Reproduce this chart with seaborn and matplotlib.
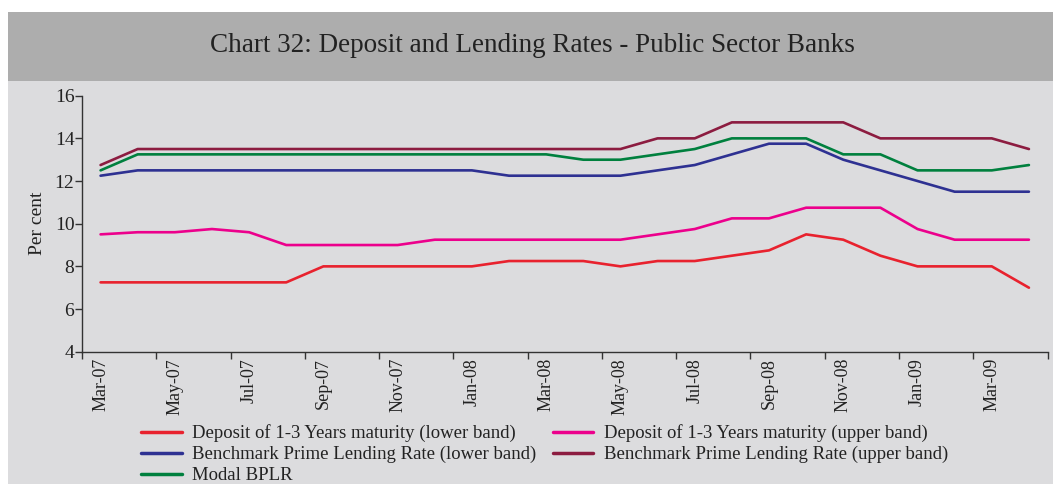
import matplotlib
matplotlib.use("Agg")
import matplotlib.pyplot as plt
import seaborn as sns
import pandas as pd
import numpy as np
from matplotlib.patches import Rectangle
from matplotlib.ticker import FixedLocator, NullFormatter

months = ["Mar-07", "Apr-07", "May-07", "Jun-07", "Jul-07", "Aug-07", "Sep-07", "Oct-07",
          "Nov-07", "Dec-07", "Jan-08", "Feb-08", "Mar-08", "Apr-08", "May-08", "Jun-08",
          "Jul-08", "Aug-08", "Sep-08", "Oct-08", "Nov-08", "Dec-08", "Jan-09", "Feb-09",
          "Mar-09", "Apr-09"]

dep_lower = [7.25, 7.25, 7.25, 7.25, 7.25, 7.25, 8.0, 8.0, 8.0, 8.0, 8.0, 8.25, 8.25,
             8.25, 8.0, 8.25, 8.25, 8.5, 8.75, 9.5, 9.25, 8.5, 8.0, 8.0, 8.0, 7.0]
dep_upper = [9.5, 9.6, 9.6, 9.75, 9.6, 9.0, 9.0, 9.0, 9.0, 9.25, 9.25, 9.25, 9.25,
             9.25, 9.25, 9.5, 9.75, 10.25, 10.25, 10.75, 10.75, 10.75, 9.75, 9.25, 9.25, 9.25]
bplr_lower = [12.25, 12.5, 12.5, 12.5, 12.5, 12.5, 12.5, 12.5, 12.5, 12.5, 12.5, 12.25, 12.25,
              12.25, 12.25, 12.5, 12.75, 13.25, 13.75, 13.75, 13.0, 12.5, 12.0, 11.5, 11.5, 11.5]
bplr_upper = [12.75, 13.5, 13.5, 13.5, 13.5, 13.5, 13.5, 13.5, 13.5, 13.5, 13.5, 13.5, 13.5,
              13.5, 13.5, 14.0, 14.0, 14.75, 14.75, 14.75, 14.75, 14.0, 14.0, 14.0, 14.0, 13.5]
modal_bplr = [12.5, 13.25, 13.25, 13.25, 13.25, 13.25, 13.25, 13.25, 13.25, 13.25, 13.25, 13.25, 13.25,
              13.0, 13.0, 13.25, 13.5, 14.0, 14.0, 14.0, 13.25, 13.25, 12.5, 12.5, 12.5, 12.75]

series_names = ["Deposit of 1-3 Years maturity (lower band)",
                "Deposit of 1-3 Years maturity (upper band)",
                "Benchmark Prime Lending Rate (lower band)",
                "Benchmark Prime Lending Rate (upper band)",
                "Modal BPLR"]
series_values = [dep_lower, dep_upper, bplr_lower, bplr_upper, modal_bplr]
colors = ["#e8222e", "#ec008c", "#2e3192", "#8c1c40", "#00803e"]

title = "Chart 32: Deposit and Lending Rates - Public Sector Banks"
y_label = "Per cent"
y_ticks = [4, 6, 8, 10, 12, 14, 16]

rows = []
for name, vals in zip(series_names, series_values):
    for i, v in enumerate(vals):
        rows.append({"idx": i, "value": v, "series": name})
df = pd.DataFrame(rows)

sns.set_theme(style="white")
plt.rcParams["font.family"] = ["Liberation Serif", "DejaVu Serif"]

W, H = 1053, 484
fig = plt.figure(figsize=(W / 100, H / 100), dpi=100)
fig.patch.set_facecolor("white")
bg = "#dcdcde"
band = "#adadad"
fig.patches.append(Rectangle((8 / W, 0), 1 - 8 / W, 1 - 81 / H, transform=fig.transFigure,
                             facecolor=bg, edgecolor="none", zorder=-5))
fig.patches.append(Rectangle((8 / W, 1 - 81 / H), 1 - 8 / W, 69 / H, transform=fig.transFigure,
                             facecolor=band, edgecolor="none", zorder=-5))
fig.text((8 + W) / 2 / W + 2 / W, 1 - 46 / H, title, ha="center", va="center", fontsize=19.5,
         color="#222222")

ax = fig.add_axes([82 / W, 1 - 351.7 / H, (1047.5 - 82) / W, (351.7 - 95.7) / H])
ax.set_facecolor("none")

sns.lineplot(data=df, x="idx", y="value", hue="series", hue_order=series_names,
             palette=colors, linewidth=1.9, ax=ax, legend=False, estimator=None, sort=False)

ax.set_xlim(-0.5, len(months) - 0.5)
ax.set_ylim(4, 16)
ax.set_yticks(y_ticks)
ax.set_yticklabels([str(t) for t in y_ticks], fontsize=14, color="#222222")
ax.set_xticks(list(range(0, len(months), 2)))
ax.set_xticklabels(months[::2], rotation=90, fontsize=13, color="#222222")
ax.xaxis.set_minor_locator(FixedLocator(np.arange(-0.5, len(months), 2)))
ax.xaxis.set_minor_formatter(NullFormatter())
ax.tick_params(axis="x", which="major", bottom=True, length=0, pad=4.5)
ax.tick_params(axis="x", which="minor", bottom=True, length=5, width=1, color="#333333",
               direction="out")
ax.tick_params(axis="y", which="major", left=True, length=5, width=1, color="#333333",
               direction="out", pad=0.5)
ax.set_xlabel("")
ax.set_ylabel(y_label, fontsize=14, color="#222222", labelpad=6.5)
for s in ["top", "right"]:
    ax.spines[s].set_visible(False)
for s in ["left", "bottom"]:
    ax.spines[s].set_color("#333333")
    ax.spines[s].set_linewidth(1.0)

handles = {name: plt.Line2D([], [], color=c, linewidth=2.5) for name, c in zip(series_names, colors)}
order = [series_names[0], series_names[2], series_names[4], series_names[1], series_names[3]]
fig.legend([handles[n] for n in order], order, loc="upper left",
           bbox_to_anchor=(132 / W, 1 - 415 / H), ncol=2, frameon=False, fontsize=13.5,
           handlelength=2.15, handletextpad=0.55, columnspacing=0.9, labelspacing=0.2,
           borderpad=0, labelcolor="#222222")

fig.savefig("out.png", dpi=100, facecolor=fig.get_facecolor())
